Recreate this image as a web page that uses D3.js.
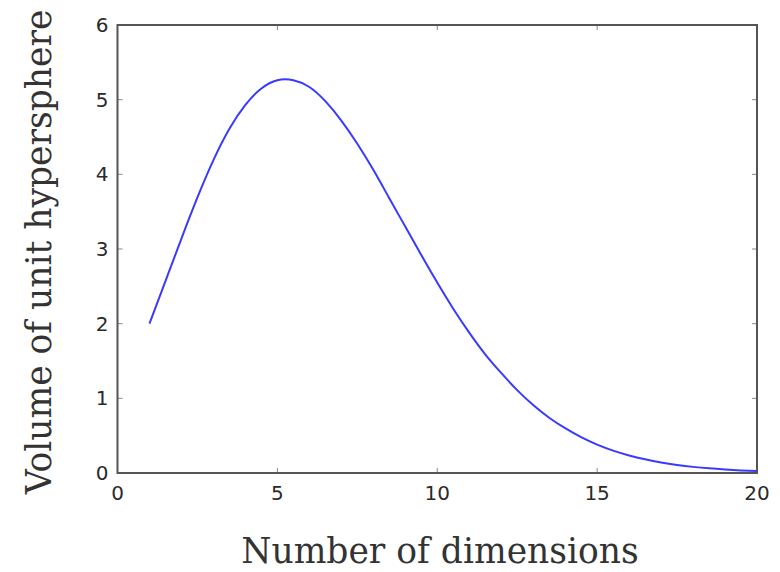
<!DOCTYPE html>
<html>
<head>
<meta charset="utf-8">
<script src="https://cdn.jsdelivr.net/npm/d3@7"></script>
<style>
  body { margin: 0; background: #fff; }
  .tick-label { font-family: "DejaVu Sans", sans-serif; font-size: 20px; fill: #2a2a2a; }
  .axis-title { font-family: "DejaVu Serif", serif; font-size: 34.5px; fill: #333; }
</style>
</head>
<body>
<svg class="chart"></svg>
<script>
// dimensions (half steps)
var dims = [1, 1.5, 2, 2.5, 3, 3.5, 4, 4.5, 5, 5.5, 6, 6.5, 7, 7.5, 8, 8.5, 9, 9.5, 10,
  10.5, 11, 11.5, 12, 12.5, 13, 13.5, 14, 14.5, 15, 15.5, 16, 16.5, 17, 17.5, 18, 18.5, 19, 19.5, 20];
var volumes = [2.0, 2.57, 3.14, 3.69, 4.19, 4.61, 4.93, 5.15, 5.26, 5.26, 5.17, 4.98, 4.72, 4.41, 4.06, 3.68, 3.30, 2.92, 2.55,
  2.20, 1.88, 1.59, 1.34, 1.11, 0.91, 0.74, 0.60, 0.48, 0.38, 0.30, 0.235, 0.183, 0.141, 0.108, 0.082, 0.062, 0.047, 0.035, 0.026];
var xTicks = [0, 5, 10, 15, 20];
var yTicks = [0, 1, 2, 3, 4, 5, 6];

var settings = {
  width: 780,
  height: 572,
  left: 117.5,
  right: 757,
  top: 25,
  bottom: 473
};

function drawChart() {
  var svg = d3.select('.chart')
    .attr('width', settings.width)
    .attr('height', settings.height);

  var x = d3.scaleLinear().domain([0, 20]).range([settings.left, settings.right]);
  var y = d3.scaleLinear().domain([0, 6]).range([settings.bottom, settings.top]);

  // curve
  var line = d3.line()
    .x(function(d) { return x(d[0]); })
    .y(function(d) { return y(d[1]); })
    .curve(d3.curveNatural);
  svg.append('path')
    .datum(dims.map(function(d, i) { return [d, volumes[i]]; }))
    .attr('d', line)
    .attr('fill', 'none')
    .attr('stroke', '#3a3aff')
    .attr('stroke-width', 2);

  // ticks on all four sides, pointing in
  var tickLen = 5;
  var ticks = svg.append('g').attr('stroke', '#888').attr('stroke-width', 1);
  xTicks.forEach(function(t) {
    ticks.append('line').attr('x1', x(t)).attr('x2', x(t)).attr('y1', y(0)).attr('y2', y(0) - tickLen);
    ticks.append('line').attr('x1', x(t)).attr('x2', x(t)).attr('y1', y(6)).attr('y2', y(6) + tickLen);
  });
  yTicks.forEach(function(t) {
    ticks.append('line').attr('y1', y(t)).attr('y2', y(t)).attr('x1', x(0)).attr('x2', x(0) + tickLen);
    ticks.append('line').attr('y1', y(t)).attr('y2', y(t)).attr('x1', x(20)).attr('x2', x(20) - tickLen);
  });

  // frame
  svg.append('rect')
    .attr('x', x(0)).attr('y', y(6))
    .attr('width', x(20) - x(0)).attr('height', y(0) - y(6))
    .attr('fill', 'none')
    .attr('stroke', '#555')
    .attr('stroke-width', 2);

  // tick labels
  svg.selectAll('.xl').data(xTicks).enter()
    .append('text')
    .attr('class', 'tick-label')
    .attr('x', function(d) { return x(d); })
    .attr('y', y(0) + 27)
    .attr('text-anchor', 'middle')
    .text(function(d) { return d; });
  svg.selectAll('.yl').data(yTicks).enter()
    .append('text')
    .attr('class', 'tick-label')
    .attr('x', x(0) - 9)
    .attr('y', function(d) { return y(d) + 7; })
    .attr('text-anchor', 'end')
    .text(function(d) { return d; });

  // axis titles
  svg.append('text')
    .attr('class', 'axis-title')
    .attr('x', 440)
    .attr('y', 563)
    .attr('text-anchor', 'middle')
    .text('Number of dimensions');
  svg.append('text')
    .attr('class', 'axis-title')
    .attr('transform', 'translate(51,252) rotate(-90)')
    .attr('text-anchor', 'middle')
    .text('Volume of unit hypersphere');
}

drawChart();
</script>
</body>
</html>
